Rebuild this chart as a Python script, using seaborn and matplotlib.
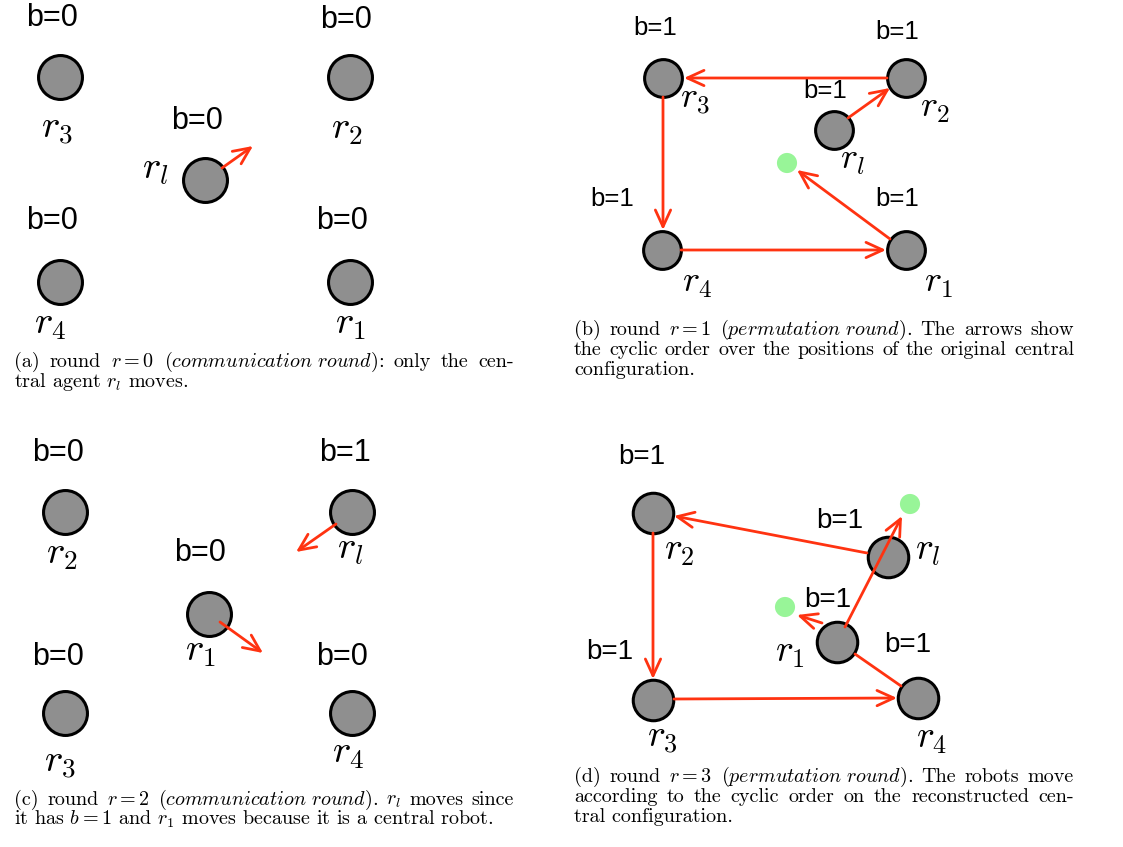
import matplotlib
matplotlib.use('Agg')
import matplotlib.pyplot as plt
import seaborn as sns

sns.set_style('white')
plt.rcParams['mathtext.fontset'] = 'cm'
plt.rcParams['axes.unicode_minus'] = False

RED = '#ff3311'
GRAY = '#8f8f8f'
GREEN = '#98f598'

# panel (a): round r=0
a_names = ['r_3', 'r_2', 'r_l', 'r_4', 'r_1']
a_x = [60, 350, 205, 60, 350]
a_y = [77, 77, 180, 282, 282]
a_bits = ['b=0', 'b=0', 'b=0', 'b=0', 'b=0']
a_bit_pos = [(52, 18), (346, 20), (197, 121), (52, 221), (342, 221)]
a_name_pos = [(57, 128), (347, 128), (155, 168), (50, 323), (350, 323)]
a_arrows = [((222, 168), (253, 146))]

# panel (b): round r=1
b_names = ['r_3', 'r_2', 'r_l', 'r_4', 'r_1']
b_x = [663, 906, 834, 662, 906]
b_y = [78, 78, 130, 250, 250]
b_bits = ['b=1', 'b=1', 'b=1', 'b=1', 'b=1']
b_bit_pos = [(655, 28), (897, 32), (825, 91), (612, 199), (897, 199)]
b_name_pos = [(695, 100), (935, 108), (852, 160), (697, 283), (938, 283)]
b_targets_x = [787]
b_targets_y = [163]
b_arrows = [((887, 78), (684, 78)), ((663, 97), (663, 230)),
            ((681, 250), (886, 250)), ((890, 239), (797, 170)),
            ((848, 118), (890, 88))]

# panel (c): round r=2
c_names = ['r_2', 'r_l', 'r_1', 'r_3', 'r_4']
c_x = [65, 352, 209, 65, 352]
c_y = [512, 512, 614, 713, 713]
c_bits = ['b=0', 'b=1', 'b=0', 'b=0', 'b=0']
c_bit_pos = [(58, 453), (345, 453), (200, 553), (58, 657), (342, 657)]
c_name_pos = [(62, 553), (350, 548), (200, 650), (60, 762), (348, 752)]
c_arrows = [((336, 524), (296, 552)), ((220, 622), (263, 653))]

# panel (d): round r=3
d_names = ['r_2', 'r_l', 'r_1', 'r_3', 'r_4']
d_x = [653, 888, 837, 653, 918]
d_y = [513, 557, 642, 700, 698]
d_bits = ['b=1', 'b=1', 'b=1', 'b=1', 'b=1']
d_bit_pos = [(642, 457), (840, 521), (828, 600), (610, 652), (908, 645)]
d_name_pos = [(679, 550), (928, 550), (790, 652), (662, 738), (932, 738)]
d_targets_x = [910, 785]
d_targets_y = [504, 607]
d_arrows = [((867, 553), (674, 516)), ((653, 533), (653, 679)),
            ((674, 699), (897, 698)), ((845, 627), (902, 516)),
            ((822, 623), (797, 615))]
d_lines = [((901, 686), (855, 654))]

# caption lines: x, baseline y, text, justified
captions = [
    (14, 367, r'(a) round $r=0$ ($\mathit{communication\ round}$): only the cen-', True),
    (14, 387, r'tral agent $r_l$ moves.', False),
    (574, 335, r'(b) round $r=1$ ($\mathit{permutation\ round}$).  The arrows show', True),
    (574, 355, r'the cyclic order over the positions of the original central', True),
    (574, 375, r'configuration.', False),
    (14, 805, r'(c) round $r=2$ ($\mathit{communication\ round}$).  $r_l$ moves since', True),
    (14, 825, r'it has $b=1$ and $r_1$ moves because it is a central robot.', False),
    (574, 782, r'(d) round $r=3$ ($\mathit{permutation\ round}$).  The robots move', True),
    (574, 802, r'according to the cyclic order on the reconstructed cen-', True),
    (574, 822, r'tral configuration.', False),
]
caption_width = 500

fig = plt.figure(figsize=(11.23, 8.47), dpi=100)
ax = fig.add_axes([0, 0, 1, 1])
ax.set_xlim(0, 1123)
ax.set_ylim(847, 0)


def arrow(p0, p1, head=True):
    style = '->,head_length=1.2,head_width=0.55' if head else '-'
    ax.annotate('', xy=p1, xytext=p0, zorder=4,
                arrowprops=dict(arrowstyle=style, color=RED, lw=2.0,
                                shrinkA=0, shrinkB=0))


def panel(xs, ys, names, bits, bit_pos, name_pos, arrows, size, bit_fs, name_fs,
          tx=None, ty=None, lines=()):
    sns.scatterplot(x=xs, y=ys, s=size, color=GRAY, edgecolor='black',
                    linewidth=2.2, ax=ax, legend=False, zorder=3)
    if tx is not None:
        sns.scatterplot(x=tx, y=ty, s=210, color=GREEN, edgecolor='none',
                        ax=ax, legend=False, zorder=3)
    for b, (bx, by) in zip(bits, bit_pos):
        ax.text(bx, by, b, fontsize=bit_fs, family='Liberation Sans',
                color='black', ha='center', va='center')
    for n, (nx, ny) in zip(names, name_pos):
        ax.text(nx, ny, '$' + n + '$', fontsize=name_fs, color='black',
                ha='center', va='center')
    for p0, p1 in arrows:
        arrow(p0, p1)
    for p0, p1 in lines:
        arrow(p0, p1, head=False)


panel(a_x, a_y, a_names, a_bits, a_bit_pos, a_name_pos, a_arrows, 1000, 22, 28)
panel(b_x, b_y, b_names, b_bits, b_bit_pos, b_name_pos, b_arrows, 740, 18.5, 26,
      b_targets_x, b_targets_y)
panel(c_x, c_y, c_names, c_bits, c_bit_pos, c_name_pos, c_arrows, 1000, 22, 28)
panel(d_x, d_y, d_names, d_bits, d_bit_pos, d_name_pos, d_arrows, 850, 20, 27,
      d_targets_x, d_targets_y, d_lines)

ax.axis('off')


def split_words(s):
    words, cur, in_math = [], '', False
    for ch in s:
        if ch == '$':
            in_math = not in_math
        if ch == ' ' and not in_math:
            if cur:
                words.append(cur)
            cur = ''
        else:
            cur += ch
    if cur:
        words.append(cur)
    return words


renderer = fig.canvas.get_renderer()
for cx, cy, txt, justify in captions:
    kw = dict(fontsize=14.5, family='cmr10', color='black', ha='left', va='baseline')
    if not justify:
        ax.text(cx, cy, txt, **kw)
        continue
    words = split_words(txt)
    items = [ax.text(0, cy, w, **kw) for w in words]
    widths = [t.get_window_extent(renderer).width for t in items]
    gap = (caption_width - sum(widths)) / (len(words) - 1)
    x = cx
    for t, w in zip(items, widths):
        t.set_x(x)
        x += w + gap

fig.savefig('out.png', dpi=100)
